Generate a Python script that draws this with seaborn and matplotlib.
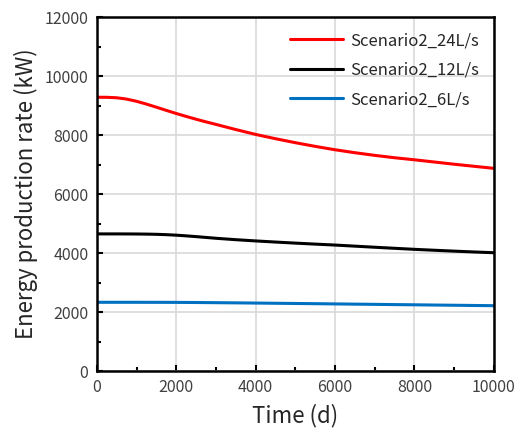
import numpy as np
import pandas as pd
import matplotlib
matplotlib.use("Agg")
import matplotlib.pyplot as plt
import seaborn as sns
from matplotlib.ticker import MultipleLocator

# Simulated energy production rate over time for three flow rates
time_d = [0, 250, 500, 750, 1000, 1250, 1500, 1750, 2000, 2250, 2500, 2750, 3000,
          3500, 4000, 4500, 5000, 5500, 6000, 6500, 7000, 7500, 8000, 8500, 9000,
          9500, 10000]
rate_24 = [9280, 9278, 9263, 9218, 9143, 9048, 8943, 8835, 8730, 8630, 8535, 8445, 8360,
           8185, 8020, 7875, 7740, 7615, 7500, 7400, 7310, 7230, 7160, 7085, 7010,
           6940, 6870]
rate_12 = [4648, 4648, 4648, 4647, 4645, 4641, 4634, 4622, 4605, 4582, 4556, 4528, 4500,
           4452, 4410, 4372, 4336, 4302, 4270, 4233, 4196, 4160, 4125, 4094, 4064,
           4036, 4010]
rate_6 = [2330, 2330, 2330, 2330, 2330, 2329, 2329, 2328, 2327, 2325, 2323, 2320, 2317,
          2311, 2304, 2297, 2290, 2283, 2275, 2267, 2260, 2252, 2245, 2237, 2230,
          2222, 2215]

series_names = ["Scenario2_24L/s", "Scenario2_12L/s", "Scenario2_6L/s"]
series_colors = ["#ff0000", "#000000", "#0070c0"]

df = pd.concat([
    pd.DataFrame({"Time (d)": time_d, "rate": vals, "series": name})
    for name, vals in zip(series_names, [rate_24, rate_12, rate_6])
])

sns.set_theme(style="white")
plt.rcParams["font.family"] = ["Noto Sans CJK SC", "DejaVu Sans"]

fig, ax = plt.subplots(figsize=(5.15, 4.36), dpi=100)
fig.subplots_adjust(left=0.188, right=0.959, top=0.961, bottom=0.149)

sns.lineplot(data=df, x="Time (d)", y="rate", hue="series",
             palette=dict(zip(series_names, series_colors)),
             linewidth=2.2, ax=ax, sort=True)

ax.set_xlim(0, 10000)
ax.set_ylim(0, 12000)
ax.xaxis.set_major_locator(MultipleLocator(2000))
ax.xaxis.set_minor_locator(MultipleLocator(1000))
ax.yaxis.set_major_locator(MultipleLocator(2000))
ax.yaxis.set_minor_locator(MultipleLocator(1000))

ax.grid(True, which="major", color="#d9d9d9", linewidth=1.2)
ax.set_axisbelow(True)

for side in ["left", "bottom", "top", "right"]:
    ax.spines[side].set_color("black")
    ax.spines[side].set_linewidth(1.8)
    ax.spines[side].set_visible(True)

ax.tick_params(axis="both", which="both", bottom=True, left=True, top=False, right=False)
ax.tick_params(axis="both", which="major", direction="in", length=4, width=1.5,
               colors="black", labelcolor="#404040", labelsize=11.5, pad=6)
ax.tick_params(axis="both", which="minor", direction="in", length=3, width=1.5,
               colors="black")

ax.set_xlabel("Time (d)", fontsize=16, color="#262626", labelpad=5)
ax.set_ylabel("Energy production rate (kW)", fontsize=16, color="#262626", labelpad=5)

leg = ax.legend(loc="upper right", frameon=False, fontsize=12, handlelength=3.2,
                labelspacing=0.75, borderaxespad=0.5, handletextpad=0.4)
for text in leg.get_texts():
    text.set_color("#262626")

fig.savefig("out.png", dpi=100)
